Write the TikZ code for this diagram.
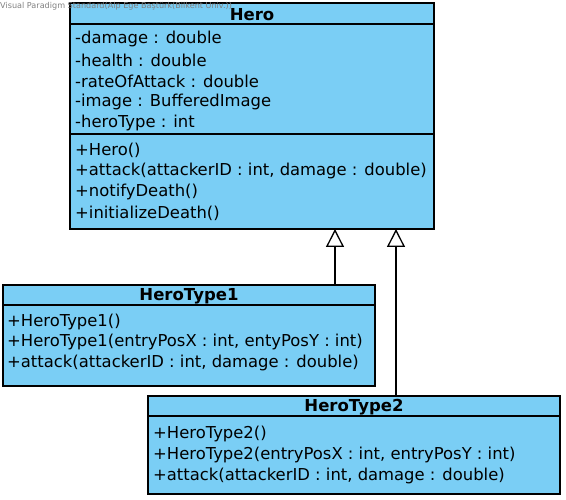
\documentclass[tikz,border=0pt]{standalone}
\usepackage{fontspec}
\setmainfont{DejaVu Sans}
\usetikzlibrary{arrows.meta}
\definecolor{classfill}{RGB}{122,206,245}
\definecolor{wm}{RGB}{128,128,128}
\begin{document}
\begin{tikzpicture}[x=1pt,y=-1pt,
  sect/.style={draw=black, fill=classfill, line width=1.3pt, anchor=north west, inner sep=0pt, outer sep=0pt},
  title/.style={font=\fontsize{16.5}{20}\selectfont\bfseries, inner sep=0pt},
  member/.style={font=\fontsize{16.4}{20}\selectfont, anchor=west, inner sep=0pt},
  gen/.style={line width=1.3pt, -{Triangle[open, length=18pt, width=18pt, fill=white]}},
  ]
\useasboundingbox (0,0) rectangle (566,500);
% Hero
\node[sect, minimum width=364pt, minimum height=21pt] (heroT) at (70,3) {};
\node[sect, minimum width=364pt, minimum height=110pt] (heroA) at (70,24) {};
\node[sect, minimum width=364pt, minimum height=95pt] (heroM) at (70,134) {};
\node[title] (heroName) at (252,14.5) {Hero};
\node[member] (ha1) at (75,39) {-damage : double};
\node[member] (ha2) at (75,60) {-health : double};
\node[member] (ha3) at (75,81) {-rateOfAttack : double};
\node[member] (ha4) at (75,102) {-image : BufferedImage};
\node[member] (ha5) at (75,123) {-heroType : int};
\node[member] (hm1) at (75,150) {+Hero()};
\node[member] (hm2) at (75,171) {+attack(attackerID : int, damage : double)};
\node[member] (hm3) at (75,192) {+notifyDeath()};
\node[member] (hm4) at (75,213) {+initializeDeath()};
% HeroType1
\node[sect, minimum width=372pt, minimum height=20pt] (t1T) at (3,285) {};
\node[sect, minimum width=372pt, minimum height=81pt] (t1M) at (3,305) {};
\node[title] (t1Name) at (189,296) {HeroType1};
\node[member] (t1m1) at (7,322) {+HeroType1()};
\node[member] (t1m2) at (7,342) {+HeroType1(entryPosX : int, entyPosY : int)};
\node[member] (t1m3) at (7,363) {+attack(attackerID : int, damage : double)};
% HeroType2
\node[sect, minimum width=412pt, minimum height=20pt] (t2T) at (148,396) {};
\node[sect, minimum width=412pt, minimum height=78pt] (t2M) at (148,416) {};
\node[title] (t2Name) at (354,407.5) {HeroType2};
\node[member] (t2m1) at (153,434) {+HeroType2()};
\node[member] (t2m2) at (153,455) {+HeroType2(entryPosX : int, entryPosY : int)};
\node[member] (t2m3) at (153,476) {+attack(attackerID : int, damage : double)};
% generalizations
\coordinate (c1) at (335,0);
\coordinate (c2) at (396,0);
\draw[gen] (t1T.north -| c1) -- (heroM.south -| c1);
\draw[gen] (t2T.north -| c2) -- (heroM.south -| c2);
% watermark
\node[anchor=west, font=\fontsize{8.1}{9}\selectfont, text=wm, inner sep=0pt] (wmk) at (0,6.5) {Visual Paradigm Standard(Alp Ege Baştürk(Bilkent Univ.))};
\end{tikzpicture}
\end{document}
